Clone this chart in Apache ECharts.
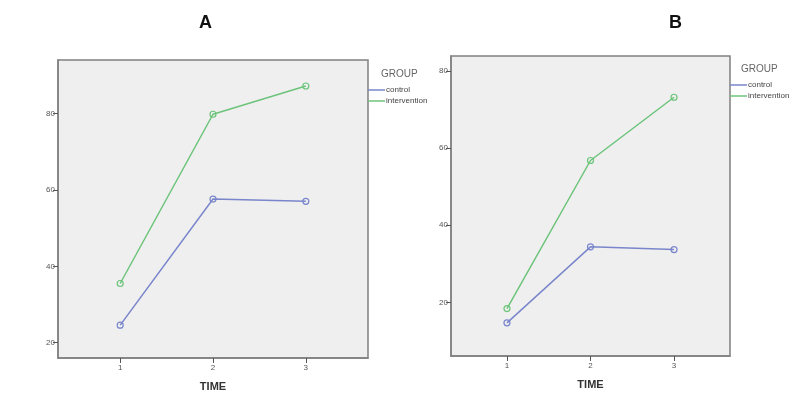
<!DOCTYPE html>
<html>
<head>
<meta charset="utf-8">
<script src="https://cdn.jsdelivr.net/npm/echarts@6/dist/echarts.min.js"></script>
<style>html,body{margin:0;padding:0;background:#fff}#c{width:800px;height:402px}</style>
</head>
<body>
<div id="c"></div>
<script>
const timePoints = [1, 2, 3];
const yTicks = [20, 40, 60, 80];
const groups = ['control', 'intervention'];
const controlA = [24.6, 57.6, 57.0];
const interventionA = [35.5, 79.8, 87.2];
const controlB = [14.7, 34.4, 33.7];
const interventionB = [18.4, 56.8, 73.2];

const colors = {control: '#7a86cc', intervention: '#6cc47a'};
const chart = echarts.init(document.getElementById('c'));
const font = 'Liberation Sans, Arial, sans-serif';

function xAxis(gi) {
  return {
    type: 'value', gridIndex: gi, min: 0.33, max: 3.67,
    name: 'TIME', nameLocation: 'middle', nameGap: 23,
    nameTextStyle: {fontFamily: font, fontWeight: 'bold', fontSize: 11, color: '#333'},
    axisLine: {show: true, lineStyle: {color: '#808080', width: 1.5}},
    axisTick: {show: true, length: 5, customValues: timePoints, lineStyle: {color: '#555'}},
    axisLabel: {customValues: timePoints, fontSize: 8, color: '#555', margin: 6, fontFamily: font},
    splitLine: {show: false}
  };
}
function yAxis(gi, min, max) {
  return {
    type: 'value', gridIndex: gi, min: min, max: max,
    axisLine: {show: true, lineStyle: {color: '#808080', width: 1.5}},
    axisTick: {show: true, length: 5, customValues: yTicks, lineStyle: {color: '#555'}},
    axisLabel: {customValues: yTicks, fontSize: 8, color: '#555', margin: 3, fontFamily: font},
    splitLine: {show: false}
  };
}
function series(name, vals, gi) {
  return {
    type: 'line', name: name, xAxisIndex: gi, yAxisIndex: gi,
    data: timePoints.map((t, i) => [t, vals[i]]),
    symbol: 'circle', symbolSize: 6,
    lineStyle: {color: colors[name], width: 1.5},
    itemStyle: {color: 'rgba(0,0,0,0)', borderColor: colors[name], borderWidth: 1.2},
    emphasis: {disabled: true}
  };
}
function legend(left, top) {
  return {
    data: groups.map(g => ({name: g, itemStyle: {color: colors[g], borderWidth: 0}})),
    orient: 'vertical', left: left, top: top,
    icon: 'rect', itemWidth: 17, itemHeight: 1.5, itemGap: 3,
    textStyle: {fontSize: 8, color: '#444', fontFamily: font, padding: [0,0,0,-4]},
    selectedMode: false
  };
}

chart.setOption({
  animation: false,
  title: [
    {text: 'A', left: 194, top: 9, textStyle: {fontSize: 18, fontWeight: 'bold', color: '#111', fontFamily: font}},
    {text: 'B', left: 664, top: 9, textStyle: {fontSize: 18, fontWeight: 'bold', color: '#111', fontFamily: font}},
    {text: 'GROUP', left: 376, top: 64, textStyle: {fontSize: 10, fontWeight: 'normal', color: '#666', fontFamily: font}},
    {text: 'GROUP', left: 736, top: 59, textStyle: {fontSize: 10, fontWeight: 'normal', color: '#666', fontFamily: font}}
  ],
  grid: [
    {left: 58, top: 60, width: 310, height: 298, show: true, backgroundColor: '#efefef', borderColor: '#808080', borderWidth: 1.5},
    {left: 451, top: 56, width: 279, height: 300, show: true, backgroundColor: '#efefef', borderColor: '#808080', borderWidth: 1.5}
  ],
  xAxis: [xAxis(0), xAxis(1)],
  yAxis: [yAxis(0, 16, 94), yAxis(1, 6.1, 83.9)],
  legend: [legend(363, 81), legend(725, 76)],
  series: [
    series('control', controlA, 0),
    series('intervention', interventionA, 0),
    series('control', controlB, 1),
    series('intervention', interventionB, 1)
  ]
});
</script>
</body>
</html>
